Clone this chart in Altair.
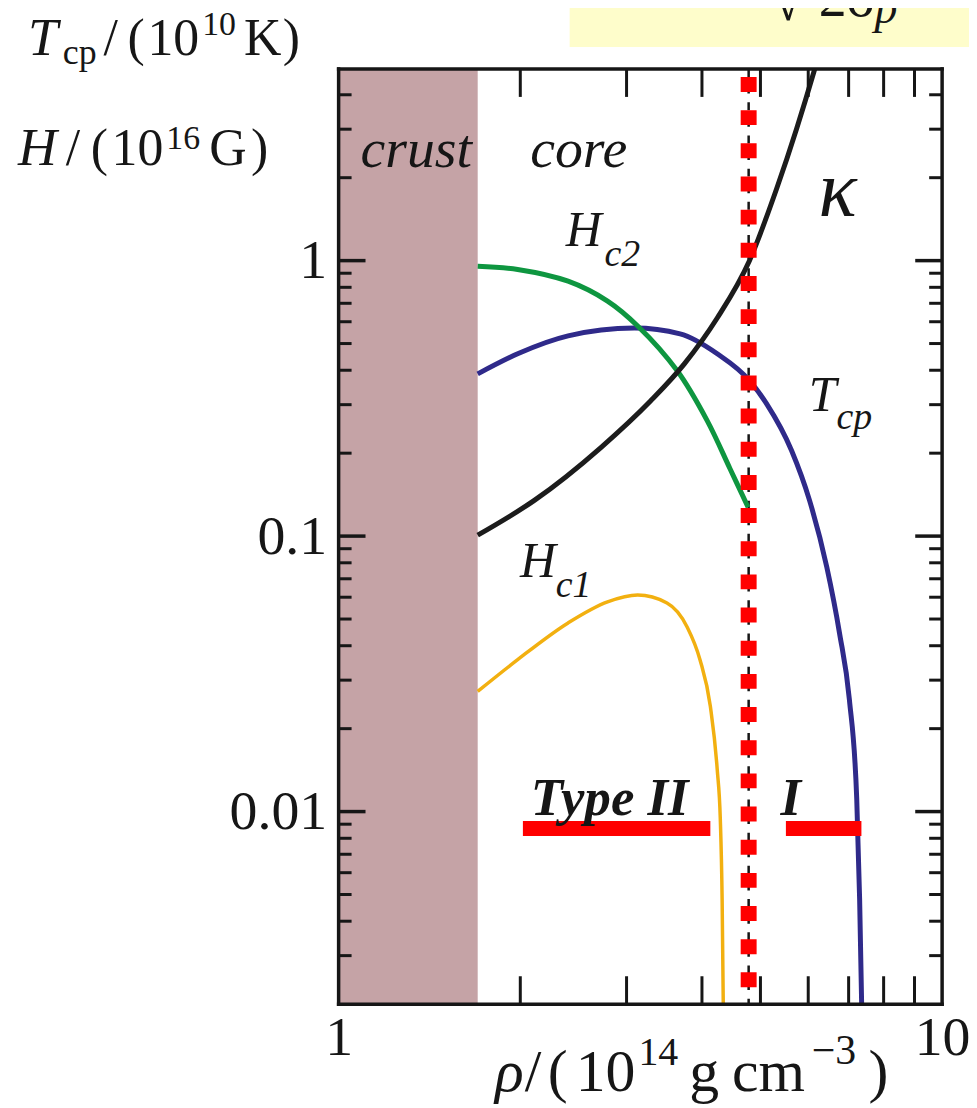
import altair as alt
import pandas as pd

# ---------------- data ----------------
# T_cp (critical temperature of proton pairing), units 1e10 K
rho_tcp = [1.70, 1.98, 2.40, 3.09, 3.68, 4.24, 4.80, 5.12, 5.63, 6.03, 6.44, 6.76, 7.02, 7.22, 7.30, 7.36]
tcp = [0.388, 0.459, 0.533, 0.569, 0.542, 0.459, 0.366, 0.302, 0.2045, 0.1348, 0.0772, 0.0445, 0.0255, 0.0111, 0.0048, 0.0019]

# H_c2 (upper critical field), units 1e16 G
rho_hc2 = [1.70, 1.98, 2.40, 2.79, 3.13, 3.64, 4.08, 4.45, 4.77]
hc2 = [0.954, 0.929, 0.842, 0.713, 0.579, 0.398, 0.2625, 0.176, 0.1272]

# kappa (Ginzburg-Landau parameter)
rho_kappa = [1.70, 2.11, 2.72, 3.29, 3.74, 4.24, 4.79, 5.32, 5.74, 6.13, 6.15]
kappa = [0.1008, 0.1348, 0.2097, 0.310, 0.422, 0.619, 0.995, 1.827, 3.012, 4.84, 4.96]

# H_c1 (lower critical field), units 1e16 G
rho_hc1 = [1.70, 1.98, 2.40, 2.79, 3.13, 3.50, 3.78, 3.97, 4.13, 4.24, 4.29, 4.32, 4.34]
hc1 = [0.0273, 0.0356, 0.0484, 0.0577, 0.0611, 0.0572, 0.0468, 0.0356, 0.0241, 0.0142, 0.0094, 0.0048, 0.0019]

crust_edge = [1.70]
type_boundary = [4.78]
bar_start = [2.02, 5.51]
bar_end = [4.13, 7.35]
bar_level = [0.00868, 0.00868]

x_tick_labels = [1, 10]
y_tick_labels = [0.01, 0.1, 1]
x_minor = [2, 3, 4, 5, 6, 7, 8, 9]
y_minor = [0.003, 0.004, 0.005, 0.006, 0.007, 0.008, 0.009,
           0.02, 0.03, 0.04, 0.05, 0.06, 0.07, 0.08, 0.09,
           0.2, 0.3, 0.4, 0.5, 0.6, 0.7, 0.8, 0.9, 2, 3, 4]

# ---------------- layout / style ----------------
W, H = 606, 939
PX0, PY0 = 340, 67          # page position of the plot origin
FONT = "Liberation Serif"
INK = "#161616"
BLUE = "#2F2A8A"
GREEN = "#0E9640"
ORANGE = "#F2B010"
BLACK = "#1C1C1C"
RED = "#FF0000"
CRUST = "#C5A3A6"
FILL = "#E2E1E7"

xsc = alt.Scale(type="log", domain=[1, 10], nice=False)
ysc = alt.Scale(type="log", domain=[0.002, 4.96], nice=False)
xaxis = alt.Axis(values=x_tick_labels, format="~g", title=None, grid=False, ticks=False,
                 tickSize=0, domain=False, labelPadding=7, labelFlush=False, labelOverlap=False)
yaxis = alt.Axis(values=y_tick_labels, format="~g", title=None, grid=False, ticks=False,
                 tickSize=0, domain=False, labelPadding=12, labelOverlap=False)
X = alt.X("rho:Q", scale=xsc, axis=xaxis)
Y = alt.Y("val:Q", scale=ysc, axis=yaxis)
one = pd.DataFrame({"k": [0]})


def curve(r, v):
    return pd.DataFrame({"rho": r, "val": v})


def line(r, v, color, width, interp="monotone"):
    return alt.Chart(curve(r, v)).mark_line(color=color, strokeWidth=width, interpolate=interp,
                                            clip=True).encode(x=X, y=Y)


def ptext(s, px, py, size, style="normal", weight="normal", align="left"):
    return alt.Chart(one).mark_text(text=s, font=FONT, fontSize=size, fontStyle=style, fontWeight=weight,
                                    align=align, baseline="alphabetic", color=INK).encode(
        x=alt.value(px - PX0), y=alt.value(py - PY0))


def dtext(s, r, v, size, style="italic", weight="normal", align="left"):
    return alt.Chart(curve([r], [v])).mark_text(text=s, font=FONT, fontSize=size, fontStyle=style,
                                                fontWeight=weight, align=align, baseline="alphabetic",
                                                color=INK).encode(x=X, y=Y)


layers = []

# crust band
layers.append(alt.Chart(pd.DataFrame({"rho": [1], "rho2": crust_edge})).mark_rect(color=CRUST).encode(
    x=X, x2="rho2:Q", y=alt.value(0), y2=alt.value(H)))

# shaded superconducting region below T_cp
layers.append(alt.Chart(curve(rho_tcp, tcp)).mark_area(color=FILL, interpolate="monotone", clip=True).encode(
    x=X, y=Y, y2=alt.value(H)))

# thin black dashed boundary line
layers.append(alt.Chart(pd.DataFrame({"rho": type_boundary})).mark_rule(
    color=INK, strokeWidth=2.5, strokeDash=[8, 8.67]).encode(x=X, y=alt.value(0), y2=alt.value(H)))

# curves
layers.append(line(rho_tcp, tcp, BLUE, 5))
layers.append(line(rho_hc2, hc2, GREEN, 5, "catmull-rom"))
layers.append(line(rho_kappa, kappa, BLACK, 5))
layers.append(line(rho_hc1, hc1, ORANGE, 3.5))

# red dotted type I / II boundary
layers.append(alt.Chart(pd.DataFrame({"rho": type_boundary})).mark_rule(
    color=RED, strokeWidth=16, strokeDash=[15, 18.3], strokeCap="butt").encode(
    x=X, y=alt.value(8), y2=alt.value(H - 12)))

# red horizontal bars
layers.append(alt.Chart(pd.DataFrame({"rho": bar_start, "rho2": bar_end, "val": bar_level})).mark_rule(
    color=RED, strokeWidth=15, strokeCap="butt").encode(x=X, x2="rho2:Q", y=Y))

# inward ticks
xt = pd.DataFrame({"rho": x_minor})
layers.append(alt.Chart(xt).mark_rule(color=INK, strokeWidth=3).encode(x=X, y=alt.value(0), y2=alt.value(28)))
layers.append(alt.Chart(xt).mark_rule(color=INK, strokeWidth=3).encode(x=X, y=alt.value(H - 28), y2=alt.value(H)))
ytM = pd.DataFrame({"val": y_tick_labels})
ytm = pd.DataFrame({"val": y_minor})
layers.append(alt.Chart(ytM).mark_rule(color=INK, strokeWidth=3.5).encode(y=Y, x=alt.value(0), x2=alt.value(27)))
layers.append(alt.Chart(ytM).mark_rule(color=INK, strokeWidth=3.5).encode(y=Y, x=alt.value(W - 27), x2=alt.value(W)))
layers.append(alt.Chart(ytm).mark_rule(color=INK, strokeWidth=3).encode(y=Y, x=alt.value(0), x2=alt.value(13)))
layers.append(alt.Chart(ytm).mark_rule(color=INK, strokeWidth=3).encode(y=Y, x=alt.value(W - 13), x2=alt.value(W)))

# frame
for a, b, c, d in [(0, W, 0, 0), (0, W, H, H), (0, 0, 0, H), (W, W, 0, H)]:
    layers.append(alt.Chart(one).mark_rule(color=INK, strokeWidth=3.5, strokeCap="square").encode(
        x=alt.value(a), x2=alt.value(b), y=alt.value(c), y2=alt.value(d)))

# in-plot labels
layers.append(dtext("crust", 1.345, 2.194, 56, align="center"))
layers.append(dtext("core", 2.499, 2.194, 56, align="center"))
layers.append(dtext("H", 2.378, 1.127, 50))
layers.append(dtext("c2", 2.758, 0.954, 38))
layers.append(dtext("H", 1.997, 0.0710, 50))
layers.append(dtext("c1", 2.289, 0.0601, 38))
layers.append(dtext("T", 6.010, 0.2853, 50))
layers.append(dtext("cp", 6.685, 0.2456, 38))
layers.append(dtext("κ", 6.71, 1.447, 80, align="center"))
layers.append(dtext("Type II", 2.082, 0.0097, 53, weight="bold"))
layers.append(dtext("I", 5.40, 0.0097, 53, weight="bold"))

# yellow box (cut off at the top)
layers.append(alt.Chart(one).mark_rect(color="#FEFDCB").encode(
    x=alt.value(572 - PX0), x2=alt.value(990 - PX0), y=alt.value(-80), y2=alt.value(45 - PY0)))
layers.append(ptext("√", 776, 18, 56))
layers.append(ptext("2σ", 822, 14, 56))
layers.append(ptext("p", 878, 21, 46, style="italic"))

# y titles
layers.append(ptext("T", 28, 53, 54, style="italic"))
layers.append(ptext("cp", 63, 62, 36))
layers.append(ptext("/", 104, 53, 52))
layers.append(ptext("(", 128, 53, 52))
layers.append(ptext("10", 148, 53, 52))
layers.append(ptext("10", 203, 33, 34))
layers.append(ptext("K", 245, 53, 52))
layers.append(ptext(")", 284, 53, 52))

layers.append(ptext("H", 18, 163, 54, style="italic"))
layers.append(ptext("/", 66, 163, 52))
layers.append(ptext("(", 91, 163, 52))
layers.append(ptext("10", 112, 163, 52))
layers.append(ptext("16", 167, 147, 34))
layers.append(ptext("G", 210, 163, 52))
layers.append(ptext(")", 252, 163, 52))

# x title
layers.append(ptext("ρ", 497, 1093, 60, style="italic"))
layers.append(ptext("/", 527, 1093, 60))
layers.append(ptext("(", 550, 1093, 60))
layers.append(ptext("10", 578, 1093, 60))
layers.append(ptext("14", 641, 1067, 40))
layers.append(ptext("g", 692, 1093, 60))
layers.append(ptext("cm", 735, 1093, 60))
layers.append(ptext("−3", 815, 1066, 42))
layers.append(ptext(")", 872, 1093, 60))

chart = alt.layer(*layers).properties(
    width=W, height=H,
    autosize=alt.AutoSizeParams(type="none"),
    padding={"left": PX0 - 8, "top": PY0 - 8, "right": 27, "bottom": 98},
).configure_view(stroke=None).configure_axis(
    labelFont=FONT, labelFontSize=56, labelColor=INK,
)

chart.save("out.html", embed_options={"renderer": "svg", "actions": False})
